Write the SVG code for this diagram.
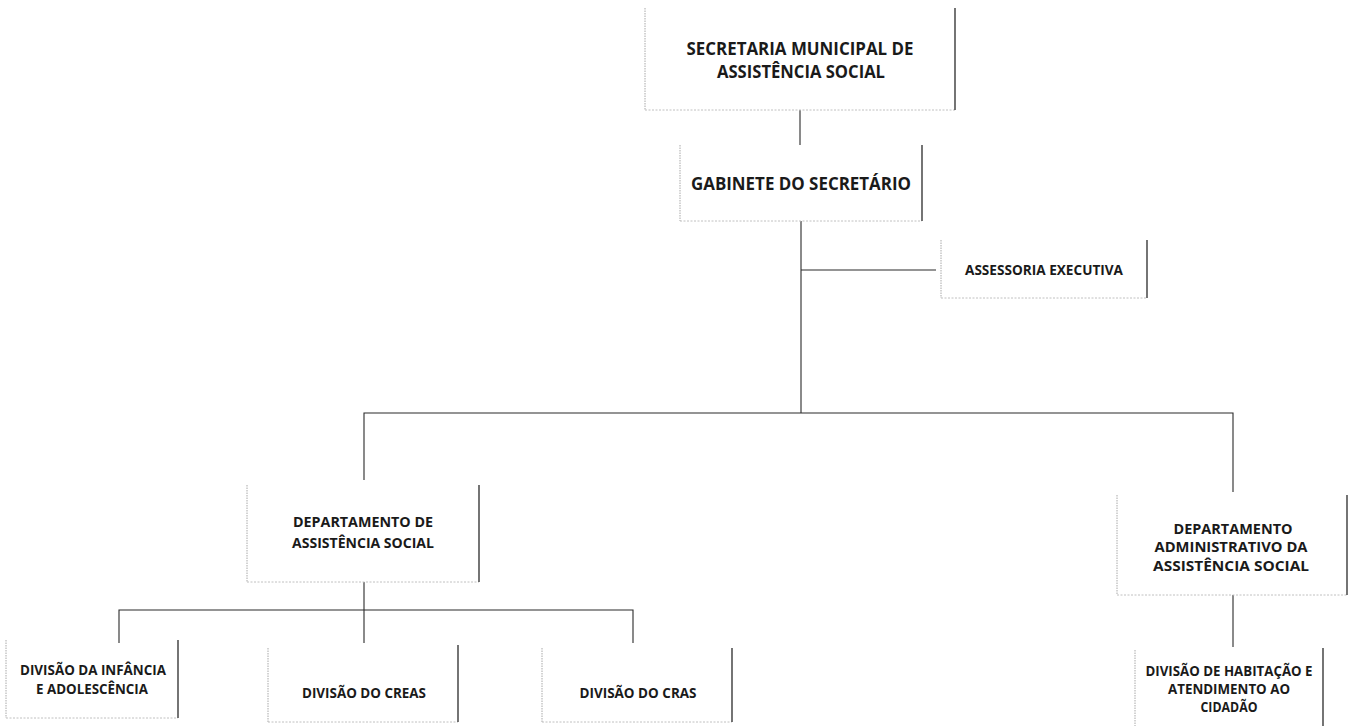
<svg xmlns="http://www.w3.org/2000/svg" width="1355" height="726" viewBox="0 0 1355 726">
  <style>
    .t { font-family: "Open Sans", "Liberation Sans", sans-serif; font-weight: 700; fill: #1a1a1a; text-anchor: middle; }
    .big { font-size: 17px; }
    .mid { font-size: 14.5px; }
    .sm { font-size: 13.5px; }
    .edge-l { stroke: #a8a8a8; stroke-width: 1; stroke-dasharray: 1.5 1; fill: none; }
    .edge-b { stroke: #c0c0c0; stroke-width: 1; stroke-dasharray: 2 1.5; fill: none; }
    .edge-r { stroke: #3a3a3a; stroke-width: 1.4; fill: none; }
    .link { stroke: #2a2a2a; stroke-width: 1.1; fill: none; }
  </style>
  <rect width="1355" height="726" fill="#ffffff"/>

  <!-- connectors -->
  <g id="connectors">
    <path class="link" d="M800 110 V145"/>
    <path class="link" d="M801 221 V413"/>
    <path class="link" d="M801 270 H936"/>
    <path class="link" d="M364 480 V413 H1233 V492"/>
    <path class="link" d="M364 582 V610"/>
    <path class="link" d="M119 643 V610 H633 V643"/>
    <path class="link" d="M364 610 V643"/>
    <path class="link" d="M1233 595 V647"/>
  </g>

  <g id="secretaria">
    <path class="edge-l" d="M645 8 V110"/>
    <path class="edge-b" d="M645 110 H955"/>
    <path class="edge-r" d="M955 8 V110"/>
    <text class="t big" x="800" y="55" textLength="227" lengthAdjust="spacingAndGlyphs">SECRETARIA MUNICIPAL DE</text>
    <text class="t big" x="801" y="78" textLength="168" lengthAdjust="spacingAndGlyphs">ASSISTÊNCIA SOCIAL</text>
  </g>

  <g id="gabinete">
    <path class="edge-l" d="M680 145 V221"/>
    <path class="edge-b" d="M680 221 H922"/>
    <path class="edge-r" d="M922 145 V221"/>
    <text class="t big" x="801" y="190" textLength="220" lengthAdjust="spacingAndGlyphs">GABINETE DO SECRETÁRIO</text>
  </g>

  <g id="assessoria">
    <path class="edge-l" d="M941 240 V298"/>
    <path class="edge-b" d="M941 298 H1147"/>
    <path class="edge-r" d="M1147 240 V298"/>
    <text class="t sm" x="1044" y="275" textLength="158" lengthAdjust="spacingAndGlyphs">ASSESSORIA EXECUTIVA</text>
  </g>

  <g id="dep-assistencia">
    <path class="edge-l" d="M247 485 V582"/>
    <path class="edge-b" d="M247 582 H479"/>
    <path class="edge-r" d="M479 485 V582"/>
    <text class="t mid" x="363" y="527" textLength="140" lengthAdjust="spacingAndGlyphs">DEPARTAMENTO DE</text>
    <text class="t mid" x="363" y="548" textLength="142" lengthAdjust="spacingAndGlyphs">ASSISTÊNCIA SOCIAL</text>
  </g>

  <g id="dep-administrativo">
    <path class="edge-l" d="M1117 495 V595"/>
    <path class="edge-b" d="M1117 595 H1347"/>
    <path class="edge-r" d="M1347 495 V595"/>
    <text class="t mid" x="1233" y="534" textLength="119" lengthAdjust="spacingAndGlyphs">DEPARTAMENTO</text>
    <text class="t mid" x="1231" y="552" textLength="153" lengthAdjust="spacingAndGlyphs">ADMINISTRATIVO DA</text>
    <text class="t mid" x="1231" y="571" textLength="156" lengthAdjust="spacingAndGlyphs">ASSISTÊNCIA SOCIAL</text>
  </g>

  <g id="div-infancia">
    <path class="edge-l" d="M6 640 V718"/>
    <path class="edge-b" d="M6 718 H178"/>
    <path class="edge-r" d="M178 640 V718"/>
    <text class="t sm" x="93" y="675" textLength="146" lengthAdjust="spacingAndGlyphs">DIVISÃO DA INFÂNCIA</text>
    <text class="t sm" x="92" y="694" textLength="112" lengthAdjust="spacingAndGlyphs">E ADOLESCÊNCIA</text>
  </g>

  <g id="div-creas">
    <path class="edge-l" d="M268 648 V722"/>
    <path class="edge-b" d="M268 722 H458"/>
    <path class="edge-r" d="M458 645 V722"/>
    <text class="t sm" x="364" y="698" textLength="124" lengthAdjust="spacingAndGlyphs">DIVISÃO DO CREAS</text>
  </g>

  <g id="div-cras">
    <path class="edge-l" d="M542 648 V722"/>
    <path class="edge-b" d="M542 722 H732"/>
    <path class="edge-r" d="M732 648 V722"/>
    <text class="t sm" x="638" y="698" textLength="117" lengthAdjust="spacingAndGlyphs">DIVISÃO DO CRAS</text>
  </g>

  <g id="div-habitacao">
    <path class="edge-l" d="M1135 650 V726"/>
    <path class="edge-r" d="M1323 648 V726"/>
    <text class="t sm" x="1229" y="676" textLength="167" lengthAdjust="spacingAndGlyphs">DIVISÃO DE HABITAÇÃO E</text>
    <text class="t sm" x="1229" y="694" textLength="122" lengthAdjust="spacingAndGlyphs">ATENDIMENTO AO</text>
    <text class="t sm" x="1229" y="712" textLength="57" lengthAdjust="spacingAndGlyphs">CIDADÃO</text>
  </g>
</svg>
